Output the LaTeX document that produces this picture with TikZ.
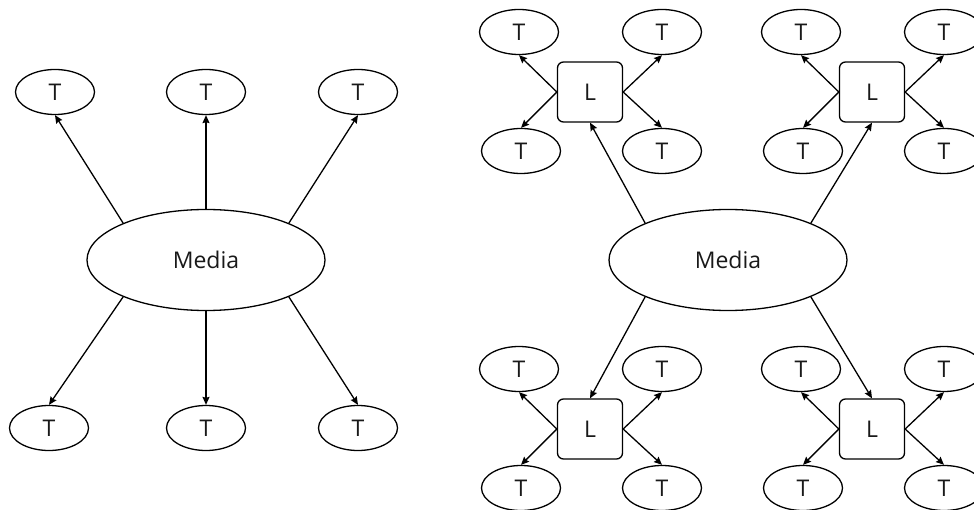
\documentclass[tikz,border=0pt]{standalone}
\usepackage{fontspec}
\setmainfont{Open Sans}
\usetikzlibrary{arrows.meta,shapes.geometric}

\tikzset{
	term/.style={draw, ellipse, line width=1.3pt, minimum width=79pt, minimum height=45pt, inner sep=0pt, text=black!90, font=\fontsize{23}{27}\selectfont},
	medium/.style={term, minimum width=238pt, minimum height=101pt},
	leader/.style={draw, rectangle, rounded corners=6pt, line width=1.3pt, minimum width=65pt, minimum height=60pt, inner sep=0pt, text=black!90, font=\fontsize{23}{27}\selectfont},
	link/.style={line width=1.3pt, -{Stealth[length=8pt, width=7pt, inset=1pt]}}
}

% one L box with its four T's around it
\def\leadergroup(#1,#2)#3{
	\node[leader] (#3) at (#1, #2) {L};
	\node[term] (#3tl) at (#1-71, #2-60) {T};
	\node[term] (#3tr) at (#1+72, #2-60) {T};
	\node[term] (#3bl) at (#1-69, #2+59) {T};
	\node[term] (#3br) at (#1+72, #2+59) {T};
	\draw[link] (#3.west) -- (#3tl.south);
	\draw[link] (#3.west) -- (#3bl.north);
	\draw[link] (#3.east) -- (#3tr.south);
	\draw[link] (#3.east) -- (#3br.north);
}

\begin{document}
\begin{tikzpicture}[x=1pt, y=-1pt]
	%%%%% START %%%%%
	\useasboundingbox (0, 0) rectangle (974, 510);
	
	% flat: media straight to the T's
	\node[medium] (media1) at (206, 260) {Media};
	
	\node[term] (ta1) at (55, 92) {T};
	\node[term] (ta2) at (206, 92) {T};
	\node[term] (ta3) at (358, 92) {T};
	\node[term] (tb1) at (49, 428) {T};
	\node[term] (tb2) at (206, 428) {T};
	\node[term] (tb3) at (358, 428) {T};
	
	\draw[link] (media1.156) -- (ta1.south);
	\draw[link] (media1.north) -- (ta2.south);
	\draw[link] (media1.24) -- (ta3.south);
	\draw[link] (media1.204) -- (tb1.north);
	\draw[link] (media1.south) -- (tb2.north);
	\draw[link] (media1.336) -- (tb3.north);
	
	% grouped: media to the L's, L's to the T's
	\node[medium] (media2) at (728, 260) {Media};
	
	\leadergroup(590,92){la}
	\leadergroup(872,92){lb}
	\leadergroup(590,429){lc}
	\leadergroup(872,429){ld}
	
	\draw[link] (media2.156) -- (la.south);
	\draw[link] (media2.24) -- (lb.south);
	\draw[link] (media2.204) -- (lc.north);
	\draw[link] (media2.336) -- (ld.north);
	
	%%%%% END %%%%%
\end{tikzpicture}
\end{document}
